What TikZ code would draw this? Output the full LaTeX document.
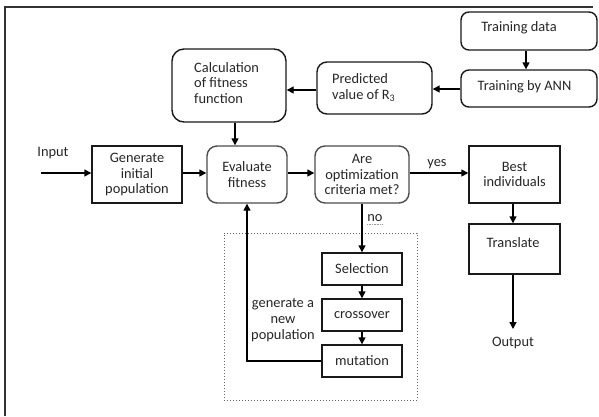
\documentclass[tikz,border=0pt]{standalone}
\usepackage{fontspec}
\setmainfont{Carlito}
\usetikzlibrary{arrows.meta}
\begin{document}
\begin{tikzpicture}[x=1pt,y=-1pt,
  every node/.style={font=\fontsize{14.4}{15.6}\selectfont, text=black!85},
  bx/.style={draw=black!90, line width=1.4pt, inner sep=0pt},
  rbx/.style={bx, rounded corners=10pt},
  gbx/.style={bx, draw=black!70, rounded corners=10pt},
  txt/.style={inner sep=0pt, align=center},
  ltxt/.style={inner sep=0pt, align=left, anchor=west},
  arr/.style={line width=1.4pt, draw=black, -{Triangle[length=7pt,width=7pt]}},
  ln/.style={line width=1.4pt, draw=black}
]
\useasboundingbox (0,0) rectangle (599,416);
% frame
\draw[line width=1.4pt, draw=black!80] (5,416) -- (5,7) -- (593,7);

% boxes
\node[rbx, rounded corners=12pt, minimum width=114pt, minimum height=73pt] (calc) at (229,85.5) {};
\node[ltxt] (calct) at (194,83) {Calculation\\of fitness\\function};
\node[rbx, minimum width=115pt, minimum height=52pt] (pred) at (374.5,88) {};
\node[ltxt] (predt) at (332,87.5) {Predicted\\value of R\textsubscript{3}};
\node[rbx, rounded corners=8pt, minimum width=136pt, minimum height=38pt] (tdata) at (529,31) {};
\node[txt] (tdatat) at (519,28) {Training data};
\node[rbx, rounded corners=8pt, minimum width=136pt, minimum height=37pt] (ann) at (529,88.5) {};
\node[txt] (annt) at (524.5,87) {Training by ANN};

\node[bx, minimum width=90pt, minimum height=57pt, align=center] (gen) at (137,174.5) {Generate\\initial\\population};
\node[gbx, minimum width=80pt, minimum height=57pt, align=center] (eval) at (247,174.5) {Evaluate\\fitness};
\node[gbx, minimum width=94pt, minimum height=57pt, align=center] (are) at (362,174.5) {Are\\optimization\\criteria met?};
\node[bx, minimum width=91pt, minimum height=57pt, align=center] (best) at (514.5,174.5) {Best\\individuals};
\node[bx, minimum width=91pt, minimum height=50pt] (trans) at (514.5,249) {};
\node[txt] (transt) at (513,243) {Translate};

\node[draw=black!60, dotted, line width=1pt, minimum width=193pt, minimum height=167pt, inner sep=0pt] (loop) at (320.5,316.5) {};
\node[bx, minimum width=80pt, minimum height=32pt] (sel) at (362,269) {Selection};
\node[bx, minimum width=80pt, minimum height=32pt] (cross) at (362,315) {crossover};
\node[bx, minimum width=80pt, minimum height=32pt] (mut) at (362,361) {mutation};

% labels
\node[txt] (input) at (53,153) {Input};
\node[txt] (yes) at (437,164) {yes};
\node[txt] (no) at (375,218) {no};
\draw[black!40, densely dotted, line width=0.6pt] (no.south west) ++(0,3) -- ++(16,0);
\node[txt] (gennew) at (283,320) {generate a\\new\\population};
\node[txt] (output) at (513,343) {Output};
\coordinate (inp) at (41,173);
\coordinate (outp) at (513,329);

% connectors
\draw[arr] (inp) -- (inp -| gen.west);
\draw[arr] (gen.east |- inp) -- (inp -| eval.west);
\draw[arr] ([xshift=6pt]calc.south) -- ([xshift=6pt]calc.south |- eval.north);
\draw[arr] (pred.west |- 0,90) -- (calc.east |- 0,90);
\draw[arr] (ann.west |- 0,89) -- (pred.east |- 0,89);
\draw[arr] ([xshift=-3pt]tdata.south) -- ([xshift=-3pt]ann.north);
\draw[arr] (eval.east |- inp) -- (are.west |- inp);
\draw[arr] (are.east |- inp) -- (best.west |- inp);
\draw[arr] (are.south) -- (sel.north);
\draw[arr] (sel.south) -- (cross.north);
\draw[arr] (cross.south) -- (mut.north);
\draw[arr] (mut.west) -| (eval.south);
\draw[arr] ([xshift=-1.5pt]best.south) -- ([xshift=-1.5pt]trans.north);
\draw[arr] ([xshift=-1.5pt]trans.south) -- (outp);
\end{tikzpicture}
\end{document}
